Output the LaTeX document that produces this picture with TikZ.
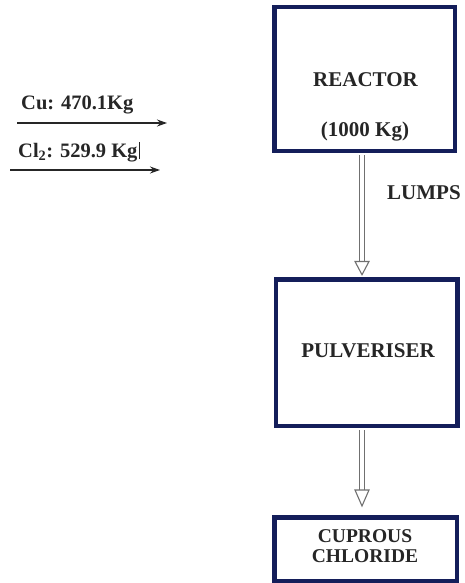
\documentclass[tikz,border=0pt]{standalone}
\usepackage{fontspec}
\setmainfont{Liberation Serif}
\usetikzlibrary{arrows.meta}
\definecolor{navy}{HTML}{141E5A}
\definecolor{ink}{HTML}{262626}
\definecolor{pipegray}{HTML}{707070}
\begin{document}
\begin{tikzpicture}[x=1pt,y=-1pt,
  lbl/.style={font=\bfseries\fontsize{21}{24}\selectfont, text=ink, inner sep=0pt, anchor=base},
  unitbox/.style={draw=navy, line width=4.5pt, fill=white, inner sep=0pt},
  feed/.style={draw=ink, line width=1.2pt, -{Stealth[length=10pt,width=7pt]}},
  shaft/.style={draw=pipegray, line width=1.1pt, double=white, double distance=4.5pt},
  head/.style={draw=pipegray, line width=1.1pt, fill=white, line join=miter}]
\useasboundingbox (0,0) rectangle (464,583);
% boxes
\node[unitbox, minimum width=180.5pt, minimum height=143.5pt] (reactor) at (364.5,79) {};
\node[unitbox, minimum width=181.5pt, minimum height=146.5pt] (pulv) at (366.5,352.5) {};
\node[unitbox, minimum width=182.5pt, minimum height=63.5pt] (cupr) at (365.5,549) {};
% box texts
\node[lbl] (rtitle) at (365.5,87) {REACTOR};
\node[lbl] (rmass) at (365,136) {(1000 Kg)};
\node[lbl] (ptitle) at (368,357) {PULVERISER};
\node[lbl, font=\bfseries\fontsize{19.5}{22}\selectfont] (ctitle1) at (365,542) {CUPROUS};
\node[lbl, font=\bfseries\fontsize{19.5}{22}\selectfont] (ctitle2) at (365,562) {CHLORIDE};
\node[lbl, anchor=base west] (lumps) at (387,199) {LUMPS};
% pipes between units
\coordinate (s1a) at ([xshift=-2.5pt,yshift=-2.25pt]reactor.south);
\coordinate (s1b) at ([xshift=-4.5pt,yshift=15.5pt]pulv.north);
\coordinate (t1) at ([xshift=-4.5pt,yshift=2.25pt]pulv.north);
\draw[shaft] (s1a) -- (s1b);
\draw[head] ([xshift=-7pt]s1b) -- (t1) -- ([xshift=7pt]s1b) -- cycle;
\coordinate (s2a) at ([xshift=-4.5pt,yshift=-2.25pt]pulv.south);
\coordinate (s2b) at ([xshift=-3.5pt,yshift=25pt]cupr.north);
\coordinate (t2) at ([xshift=-3.5pt,yshift=9pt]cupr.north);
\draw[shaft] (s2a) -- (s2b);
\draw[head] ([xshift=-7pt]s2b) -- (t2) -- ([xshift=7pt]s2b) -- cycle;
% feeds
\node[lbl, anchor=base west, font=\bfseries\fontsize{20.5}{24}\selectfont] (cu) at (21,110) {Cu: 470.1Kg};
\node[lbl, anchor=base west, font=\bfseries\fontsize{20.5}{24}\selectfont] (cl) at (18,157) {Cl\textsubscript{2}: 529.9 Kg\hspace{1.5pt}\rule[-2pt]{0.9pt}{17pt}};
\coordinate (cuS) at (17,123);
\coordinate (cuE) at (167,123);
\coordinate (clS) at (10,170);
\coordinate (clE) at (160,170);
\draw[feed] (cuS) -- (cuE);
\draw[feed] (clS) -- (clE);
\end{tikzpicture}
\end{document}
